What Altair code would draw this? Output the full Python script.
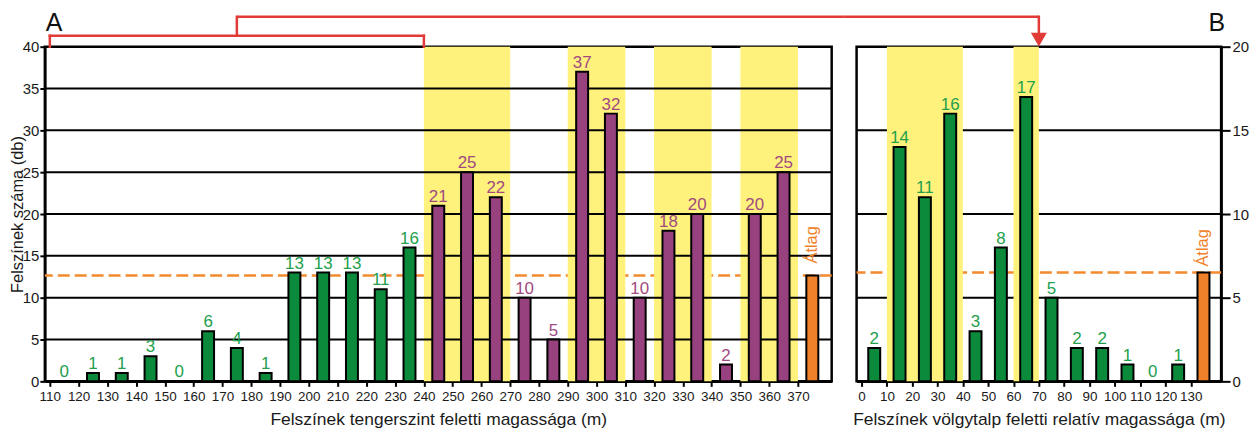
import altair as alt
import pandas as pd

# ---------------- data: panel A ----------------
a_mid = [115, 125, 135, 145, 155, 165, 175, 185, 195, 205, 215, 225, 235,
         245, 255, 265, 275, 285, 295, 305, 315, 325, 335, 345, 355, 365]
a_count = [0, 1, 1, 3, 0, 6, 4, 1, 13, 13, 13, 11, 16,
           21, 25, 22, 10, 5, 37, 32, 10, 18, 20, 2, 20, 25]
a_group = ["low"] * 13 + ["high"] * 13
a_avg = 12.65
a_avg_x = 375
a_band_from = [240, 290, 320, 350]
a_band_to = [270, 310, 340, 370]
a_xticks = [110, 120, 130, 140, 150, 160, 170, 180, 190, 200, 210, 220, 230,
            240, 250, 260, 270, 280, 290, 300, 310, 320, 330, 340, 350, 360, 370]
a_yticks = [0, 5, 10, 15, 20, 25, 30, 35, 40]
a_grid = [5, 10, 15, 20, 25, 30, 35]
a_bracket = [110, 240]
a_bracket_mid = 175

# ---------------- data: panel B ----------------
b_mid = [5, 15, 25, 35, 45, 55, 65, 75, 85, 95, 105, 115, 125]
b_count = [2, 14, 11, 16, 3, 8, 17, 5, 2, 2, 1, 0, 1]
b_group = ["low"] * 13
b_avg = 6.5
b_avg_x = 135
b_band_from = [10, 60]
b_band_to = [40, 70]
b_xticks = [0, 10, 20, 30, 40, 50, 60, 70, 80, 90, 100, 110, 120, 130]
b_yticks = [0, 5, 10, 15, 20]
b_grid = [5, 10, 15]
b_target = 70

# ---------------- styles ----------------
GREEN = "#0c8a3c"
PURPLE = "#97417f"
ORANGE = "#f0812b"
GREEN_T = "#23a04c"
PURPLE_T = "#a04a80"
YELLOW = "#fff27c"
RED = "#e23a36"
DASH_OR = "#f28a2e"
FONT = "Liberation Sans"

H = 336
W_A = 790
W_B = 366
SPACING = 25


def panel(mid, count, group, avg, avg_x, bfrom, bto, grid, xdomain, xticks,
          ydomain, yticks, width, xtitle, yorient, ytitle, grid_over_bands,
          atlag_dx, letter, letter_right, ytick, ylabpad):
    xs = alt.Scale(domain=xdomain, nice=False, zero=False)
    ys = alt.Scale(domain=ydomain, nice=False, zero=True)
    xaxis = alt.Axis(values=xticks, title=xtitle, grid=False, labelFontSize=13.5,
                     titleFontSize=17.5, tickSize=5, tickWidth=2, tickColor="black",
                     domainColor="black", domainWidth=2.5, labelColor="#1a1a1a",
                     labelPadding=3, titlePadding=8, labelFont=FONT,
                     titleFont=FONT, titleFontWeight="normal",
                     titleColor="#1a1a1a", labelFlush=False, labelOverlap=False)
    yaxis = alt.Axis(values=yticks, title=ytitle, orient=yorient, grid=False,
                     labelFontSize=15, titleFontSize=16.5, tickSize=ytick, tickWidth=2,
                     tickColor="black", domainColor="black", domainWidth=2.5,
                     labelColor="#1a1a1a", labelPadding=ylabpad, titlePadding=-3,
                     labelFont=FONT, titleFont=FONT, titleFontWeight="normal",
                     titleColor="#1a1a1a", labelFlush=False, labelOverlap=False)

    def X(field):
        return alt.X(field, type="quantitative", scale=xs, axis=xaxis)

    def Y(field):
        return alt.Y(field, type="quantitative", scale=ys, axis=yaxis)

    bars_df = pd.DataFrame({"x": mid + [avg_x], "n": count + [avg],
                            "grp": group + ["avg"],
                            "lbl": [str(c) for c in count] + [""]})
    lbl_df = bars_df.iloc[:-1]
    bands_df = pd.DataFrame({"x0": bfrom, "x1": bto})
    grid_df = pd.DataFrame({"g": grid})
    one = pd.DataFrame({"k": [0]})

    avg_rule = alt.Chart(one).mark_rule(
        color=DASH_OR, strokeWidth=2.5, strokeDash=[12, 5]
    ).encode(y=alt.Y(datum=avg, scale=ys, axis=yaxis))

    bands = alt.Chart(bands_df).mark_rect(color=YELLOW, opacity=1).encode(
        x=X("x0"), x2="x1", y=alt.value(0), y2=alt.value(H))

    grid_rules = alt.Chart(grid_df).mark_rule(color="black", strokeWidth=2).encode(
        y=Y("g"))

    bars = alt.Chart(bars_df).mark_bar(size=12, stroke="black", strokeWidth=2).encode(
        x=X("x"), y=Y("n"),
        color=alt.Color("grp:N", scale=alt.Scale(domain=["low", "high", "avg"],
                                                 range=[GREEN, PURPLE, ORANGE]),
                        legend=None))

    labels = alt.Chart(lbl_df).mark_text(
        baseline="alphabetic", dy=-4, fontSize=17, font=FONT
    ).encode(
        x=X("x"), y=Y("n"), text="lbl:N",
        color=alt.Color("grp:N", scale=alt.Scale(domain=["low", "high"],
                                                 range=[GREEN_T, PURPLE_T]),
                        legend=None))

    atlag = alt.Chart(one).mark_text(
        text="Átlag", angle=270, align="left", baseline="middle", dx=atlag_dx,
        fontSize=16.5, font=FONT, color=ORANGE
    ).encode(x=alt.X(datum=avg_x, scale=xs, axis=xaxis),
             y=alt.Y(datum=avg, scale=ys, axis=yaxis))

    letter_txt = alt.Chart(one).mark_text(
        text=letter, fontSize=25, font=FONT, color="#111",
        align="right" if letter_right else "left", baseline="alphabetic"
    ).encode(x=alt.value(width + 4 if letter_right else 1), y=alt.value(-16))

    if grid_over_bands:
        layers = [avg_rule, bands, grid_rules]
    else:
        layers = [grid_rules, avg_rule, bands]
    layers += [bars, labels, atlag, letter_txt]
    return layers, xs, xaxis


# ----- panel A -----
layers_a, xs_a, xaxis_a = panel(
    a_mid, a_count, a_group, a_avg, a_avg_x, a_band_from, a_band_to, a_grid,
    [110, 380], a_xticks, [0, 40], a_yticks, W_A,
    "Felszínek tengerszint feletti magassága (m)", "left",
    "Felszínek száma (db)", True, 12, "A", False, 5, 1)

one = pd.DataFrame({"k": [0]})
br_df = pd.DataFrame({"bx": a_bracket})
red_kw = dict(color=RED, strokeWidth=2.5, strokeCap="square")
red_butt = dict(color=RED, strokeWidth=2.5, strokeCap="butt")

br_h = alt.Chart(one).mark_rule(**red_kw).encode(
    x=alt.X(datum=a_bracket[0], scale=xs_a, axis=xaxis_a),
    x2=alt.X2(datum=a_bracket[1]), y=alt.value(-11))
br_v = alt.Chart(br_df).mark_rule(**red_kw).encode(
    x=alt.X("bx:Q", scale=xs_a, axis=xaxis_a), y=alt.value(-11), y2=alt.value(0))
br_mid = alt.Chart(one).mark_rule(**red_kw).encode(
    x=alt.X(datum=a_bracket_mid, scale=xs_a, axis=xaxis_a),
    y=alt.value(-30), y2=alt.value(-11))
br_link = alt.Chart(one).mark_rule(**red_butt).encode(
    x=alt.X(datum=a_bracket_mid, scale=xs_a, axis=xaxis_a),
    x2=alt.value(W_A + SPACING / 2), y=alt.value(-30))

chart_a = alt.layer(*layers_a, br_h, br_v, br_mid, br_link).properties(
    width=W_A, height=H).resolve_scale(color="independent")

# ----- panel B -----
layers_b, xs_b, xaxis_b = panel(
    b_mid, b_count, b_group, b_avg, b_avg_x, b_band_from, b_band_to, b_grid,
    [0, 140], b_xticks, [0, 20], b_yticks, W_B,
    "Felszínek völgytalp feletti relatív magassága (m)", "right",
    None, False, 6, "B", True, 9, 2)

ar_link = alt.Chart(one).mark_rule(**red_butt).encode(
    x=alt.X(datum=b_target, scale=xs_b, axis=xaxis_b),
    x2=alt.value(-SPACING / 2), y=alt.value(-30))
ar_v = alt.Chart(one).mark_rule(**red_kw).encode(
    x=alt.X(datum=b_target, scale=xs_b, axis=xaxis_b),
    y=alt.value(-30), y2=alt.value(-13))
ar_head = alt.Chart(one).mark_point(
    shape="triangle-down", filled=True, size=256, color=RED, opacity=1,
    strokeWidth=0
).encode(x=alt.X(datum=b_target, scale=xs_b, axis=xaxis_b), y=alt.value(-7))

chart_b = alt.layer(*layers_b, ar_link, ar_v, ar_head).properties(
    width=W_B, height=H).resolve_scale(color="independent")

chart = alt.hconcat(chart_a, chart_b, spacing=SPACING, bounds="flush").properties(
    padding=0
).configure_view(stroke="black", strokeWidth=2.5)

chart.save("out.html", embed_options={"renderer": "svg", "actions": False})
